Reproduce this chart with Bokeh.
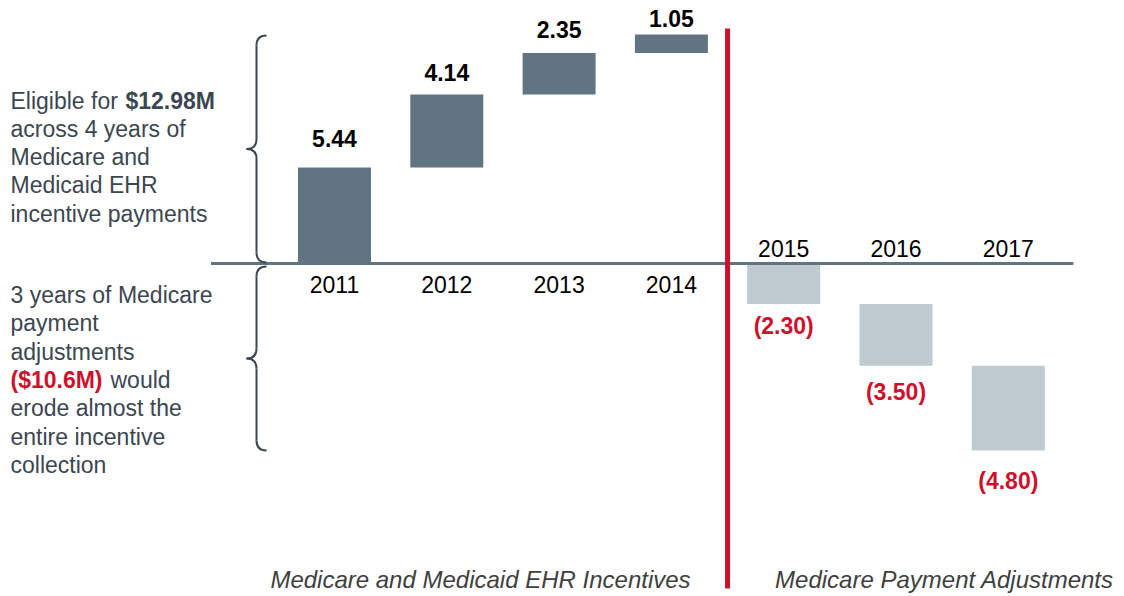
from bokeh.plotting import figure
from bokeh.models import Range1d, Label, ColumnDataSource
from bokeh.core.properties import value
from bokeh.embed import file_html
from bokeh.resources import INLINE

# ---------------- data ----------------
incentive_years = ["2011", "2012", "2013", "2014"]
incentive_values = [5.44, 4.14, 2.35, 1.05]
incentive_labels = ["5.44", "4.14", "2.35", "1.05"]

adjust_years = ["2015", "2016", "2017"]
adjust_values = [-2.30, -3.50, -4.80]
adjust_labels = ["(2.30)", "(3.50)", "(4.80)"]

group_titles = ["Medicare and Medicaid EHR Incentives", "Medicare Payment Adjustments"]

upper_note_lead = "Eligible for "
upper_note_bold = "$12.98M"
upper_note_lines = ["across 4 years of", "Medicare and", "Medicaid EHR", "incentive payments"]
lower_note_lines_a = ["3 years of Medicare", "payment", "adjustments"]
lower_note_red = "($10.6M)"
lower_note_after_red = "would"
lower_note_lines_b = ["erode almost the", "entire incentive", "collection"]

# ---------------- layout / style ----------------
W, H = 1124, 596
X0_PX, STEP_PX = 334.0, 112.3     # pixel of first category, pixel per category
Y0_PX, UNIT_PX = 263.0, 17.65     # pixel of zero line, pixel per unit
FONT = "Liberation Sans"
DARK = "#607482"
LIGHT = "#bfcad1"
RED = "#d0102b"
NOTE = "#3b4651"
BAR_W = 0.65
SHIFT = -9  # text baseline correction (px)

def px_x(dx):
    return dx / STEP_PX

def px_y(dy):
    return dy / UNIT_PX

# ---------------- waterfall geometry ----------------
inc_x = list(range(len(incentive_values)))
inc_top, inc_bottom, run = [], [], 0.0
for v in incentive_values:
    inc_bottom.append(run)
    run += v
    inc_top.append(run)
total_incentive = run

adj_x = [len(incentive_values) + i for i in range(len(adjust_values))]
adj_top, adj_bottom, run = [], [], 0.0
for v in adjust_values:
    adj_top.append(run)
    run += v
    adj_bottom.append(run)
total_adjust = run

p = figure(width=W, height=H, output_backend="svg", toolbar_location=None,
           x_range=Range1d(-X0_PX / STEP_PX, (W - X0_PX) / STEP_PX),
           y_range=Range1d(-(H - Y0_PX) / UNIT_PX, Y0_PX / UNIT_PX),
           min_border=0, min_border_left=0, min_border_right=0,
           min_border_top=0, min_border_bottom=0,
           outline_line_color=None, background_fill_color="white",
           border_fill_color="white")
p.axis.visible = False
p.grid.visible = False

inc_src = ColumnDataSource(dict(x=inc_x, top=inc_top, bottom=inc_bottom,
                                label=incentive_labels, year=incentive_years,
                                dy=[d + SHIFT for d in [-20, -13, -14, -7]]))
adj_src = ColumnDataSource(dict(x=adj_x, top=adj_top, bottom=adj_bottom,
                                label=adjust_labels, year=adjust_years,
                                dy=[d + SHIFT for d in [31, 35, 39]]))

p.vbar(x="x", top="top", bottom="bottom", width=BAR_W, source=inc_src,
       fill_color=DARK, line_color=None)
p.vbar(x="x", top="top", bottom="bottom", width=BAR_W, source=adj_src,
       fill_color=LIGHT, line_color=None)

# zero line
n_all = len(inc_x) + len(adj_x)
p.segment(x0=[-1.1], y0=[0], x1=[n_all - 1 + 0.58], y1=[0],
          line_color=DARK, line_width=3)

# separator
sep_x = len(inc_x) - 0.5
p.segment(x0=[sep_x], y0=[total_incentive + px_y(6)], x1=[sep_x],
          y1=[-(H - Y0_PX) / UNIT_PX + px_y(8)], line_color=RED, line_width=5)

# value labels
p.text(x="x", y="top", text="label", y_offset="dy", source=inc_src,
       text_align="center", text_baseline="alphabetic",
       text_font=value(FONT), text_font_style="bold",
       text_font_size="23px", text_color="black")
p.text(x="x", y="bottom", text="label", y_offset="dy", source=adj_src,
       text_align="center", text_baseline="alphabetic",
       text_font=value(FONT), text_font_style="bold",
       text_font_size="23px", text_color=RED)

# year labels
p.text(x="x", y=0, text="year", y_offset=30 + SHIFT, source=inc_src,
       text_align="center", text_baseline="alphabetic",
       text_font=value(FONT), text_font_size="23px", text_color="black")
p.text(x="x", y=0, text="year", y_offset=-6 + SHIFT, source=adj_src,
       text_align="center", text_baseline="alphabetic",
       text_font=value(FONT), text_font_size="23px", text_color="black")

# braces
def brace(y_hi, y_lo):
    xv = px_x(256 - X0_PX)
    xe = px_x(266 - X0_PX)
    xt = px_x(246 - X0_PX)
    c = px_y(10)
    ym = (y_hi + y_lo) / 2
    q = dict(x0=[xe, xv, xt, xv], y0=[y_hi, ym + c, ym, y_lo + c],
             x1=[xv, xt, xv, xe], y1=[y_hi - c, ym, ym - c, y_lo],
             cx=[xv, xv, xv, xv], cy=[y_hi, ym, ym, y_lo])
    p.quadratic(source=ColumnDataSource(q), x0="x0", y0="y0", x1="x1", y1="y1",
                cx="cx", cy="cy", line_color=NOTE, line_width=2)
    p.segment(x0=[xv, xv], y0=[y_hi - c, ym - c], x1=[xv, xv], y1=[ym + c, y_lo + c],
              line_color=NOTE, line_width=2)

brace(total_incentive - px_y(1), px_y(1))
brace(-px_y(3), total_adjust)

# notes
def note(text, x, base_px, bold=False, color=NOTE, italic=False, size="23px", align="left"):
    style = "bold" if bold else ("italic" if italic else "normal")
    p.add_layout(Label(x=x, y=H - (base_px + SHIFT), x_units="screen", y_units="screen",
                       text=text, text_font=FONT, text_font_size=size,
                       text_font_style=style, text_color=color,
                       text_align=align, text_baseline="alphabetic"))

LH = 28.3
note(upper_note_lead, 10, 109)
note(upper_note_bold, 125, 109, bold=True)
for i, t in enumerate(upper_note_lines):
    note(t, 10, 109 + LH * (i + 1))

base = 303.5
for i, t in enumerate(lower_note_lines_a):
    note(t, 10, base + LH * i)
note(lower_note_red, 10, base + LH * 3, bold=True, color=RED)
note(lower_note_after_red, 110, base + LH * 3)
for i, t in enumerate(lower_note_lines_b):
    note(t, 10, base + LH * (4 + i))

note(group_titles[0], 480, 588, italic=True, color="#404040", size="24px", align="center")
note(group_titles[1], 944, 588, italic=True, color="#404040", size="24px", align="center")

open("out.html", "w").write(file_html(p, INLINE))
